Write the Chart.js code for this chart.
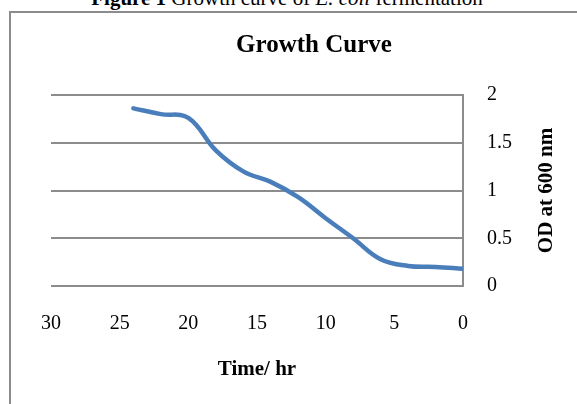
<!DOCTYPE html>
<html>
<head>
<meta charset="utf-8">
<script src="https://cdn.jsdelivr.net/npm/chart.js@4/dist/chart.umd.min.js"></script>
<style>
  html, body { margin: 0; padding: 0; background: #fff; }
  #wrap { position: relative; width: 577px; height: 404px; overflow: hidden; }
  #frame { position: absolute; left: 9px; top: 11px; width: 700px; height: 500px;
           border-left: 2px solid #8c8c8c; border-top: 2px solid #8c8c8c; }
  #caption { position: absolute; left: 0; width: 574px; top: -14px; text-align: center;
             font: 21px "Liberation Serif", serif; color: #000; white-space: nowrap; }
  canvas { position: absolute; left: 0; top: 0; }
</style>
</head>
<body>
<div id="wrap">
  <div id="frame"></div>
  <div id="caption"><b>Figure 1</b> Growth curve of <i>E. coli</i> fermentation</div>
  <canvas id="c" width="577" height="404"></canvas>
</div>
<script>
// Sampling times (hours) and optical density readings
const timeHours = [0, 2, 4, 6, 8, 10, 12, 14, 16, 18, 20, 22, 24];
const odValues  = [0.18, 0.20, 0.21, 0.28, 0.50, 0.71, 0.93, 1.09, 1.20, 1.42, 1.76, 1.80, 1.86];

// Axis settings
const xTicks = [0, 5, 10, 15, 20, 25, 30];
const yTicks = [0, 0.5, 1, 1.5, 2];

const chartTitle = 'Growth Curve';
const xTitle = 'Time/ hr';
const yTitle = 'OD at 600 nm';

const serif = '"Liberation Serif", "Times New Roman", serif';
const gridGray = '#8c8c8c';

// Vertical axis title, reading bottom-to-top on the right side
const yTitlePlugin = {
  id: 'yTitle',
  afterDraw(chart) {
    const y = chart.scales.y;
    const ctx = chart.ctx;
    ctx.save();
    ctx.translate(y.right - 30, (y.top + y.bottom) / 2);
    ctx.rotate(-Math.PI / 2);
    ctx.font = 'bold 21px ' + serif;
    ctx.fillStyle = '#000';
    ctx.textAlign = 'center';
    ctx.textBaseline = 'middle';
    ctx.fillText(yTitle, 0, 0);
    ctx.restore();
  }
};

new Chart(document.getElementById('c'), {
  type: 'line',
  data: {
    datasets: [{
      data: timeHours.map((t, i) => ({ x: t, y: odValues[i] })),
      borderColor: '#4a7ebb',
      borderWidth: 4.5,
      borderCapStyle: 'round',
      borderJoinStyle: 'round',
      pointRadius: 0,
      tension: 0.4,
      fill: false
    }]
  },
  options: {
    responsive: false,
    animation: false,
    devicePixelRatio: 1,
    layout: { padding: { top: 0, left: 51, right: 0, bottom: 0 } },
    plugins: {
      legend: { display: false },
      tooltip: { enabled: false },
      title: {
        display: true,
        text: chartTitle,
        color: '#000',
        font: { family: serif, size: 25, weight: 'bold' },
        padding: { top: 31, bottom: 34 }
      }
    },
    scales: {
      x: {
        type: 'linear',
        reverse: true,
        min: 0,
        max: 30,
        afterBuildTicks(scale) { scale.ticks = xTicks.map(v => ({ value: v })); },
        afterFit(scale) { scale.height = 118; },
        grid: { display: false },
        border: { display: false },
        ticks: { color: '#000', font: { family: serif, size: 20 }, padding: 18, maxRotation: 0,
                 callback: v => String(v) },
        title: {
          display: true,
          text: xTitle,
          color: '#000',
          font: { family: serif, size: 21, weight: 'bold' },
          padding: { top: 4, bottom: 22 }
        }
      },
      y: {
        position: 'right',
        min: 0,
        max: 2,
        afterBuildTicks(scale) { scale.ticks = yTicks.map(v => ({ value: v })); },
        afterFit(scale) { scale.width = 114; },
        grid: { color: gridGray, lineWidth: 2, drawTicks: false },
        border: { display: true, color: gridGray, width: 2 },
        ticks: { color: '#000', font: { family: serif, size: 20 }, padding: 24,
                 callback: v => String(v) }
      }
    }
  },
  plugins: [yTitlePlugin]
});
</script>
</body>
</html>
